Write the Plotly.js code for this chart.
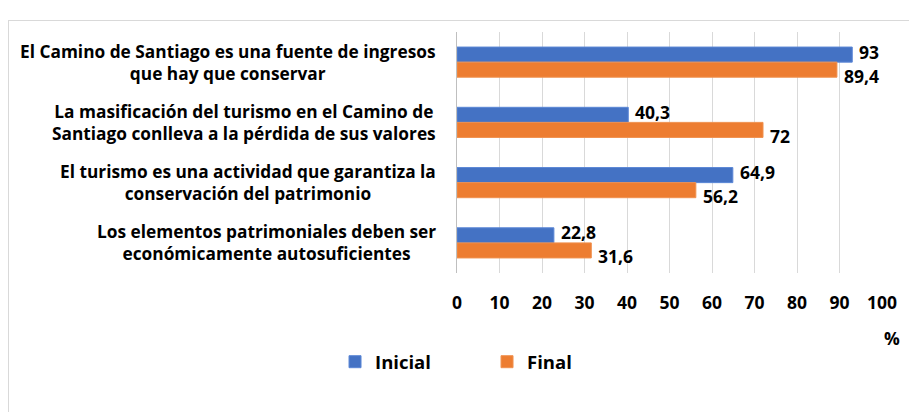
<!DOCTYPE html>
<html>
<head>
<meta charset="utf-8">
<script src="https://cdn.plot.ly/plotly-3.0.1.min.js"></script>
<style>
html,body{margin:0;padding:0;background:#fff;overflow:hidden;}
#frame{position:absolute;left:8px;top:20px;width:1000px;height:500px;border:1px solid #d9d9d9;box-sizing:border-box;}
#chart{position:absolute;left:0;top:0;width:909px;height:412px;}
</style>
</head>
<body>
<div id="frame"></div>
<div id="chart"></div>
<script>
const categories = [
  "El Camino de Santiago es una fuente de ingresos<br>que hay que conservar",
  "La masificación del turismo en el Camino de<br>Santiago conlleva a la pérdida de sus valores",
  "El turismo es una actividad que garantiza la<br>conservación del patrimonio",
  "Los elementos patrimoniales deben ser<br>económicamente autosuficientes"
];
const inicial = [93, 40.3, 64.9, 22.8];
const final = [89.4, 72, 56.2, 31.6];
const seriesNames = ["Inicial", "Final"];
const xTicks = [0,10,20,30,40,50,60,70,80,90,100];

const FONT = "'Open Sans', 'Noto Sans', sans-serif";
const colors = ["#4472C4", "#ED7D31"];
const lineColors = ["#5B87D6", "#F0914F"];
const idx = categories.map((c,i)=>i);

const traces = [inicial, final].map((vals, s) => ({
  type: "bar",
  orientation: "h",
  name: seriesNames[s],
  x: vals,
  y: idx,
  marker: {color: colors[s], line: {color: lineColors[s], width: 1}},
  hoverinfo: "x+name"
}));

const annotations = [];
const fmt = v => String(v).replace(".", ",");
[inicial, final].forEach((vals, s) => {
  vals.forEach((v, i) => {
    annotations.push({
      x: v, y: i + (s === 0 ? -0.125 : 0.125), xref: "x", yref: "y",
      text: fmt(v), showarrow: false, xanchor: "left", yanchor: "middle",
      xshift: 5, yshift: s === 0 ? 3 : -6,
      font: {family: FONT, size: 17.5, color: "#000", weight: 700}
    });
  });
});
categories.forEach((c, i) => {
  annotations.push({
    x: 0, xref: "paper", y: i, yref: "y", text: c, showarrow: false,
    xanchor: "right", yanchor: "middle", align: "center", xshift: -19,
    font: {family: FONT, size: 17.3, color: "#000", weight: 700}
  });
});
annotations.push({
  x: 1, xref: "paper", y: 0, yref: "paper", text: "%", showarrow: false,
  xanchor: "left", yanchor: "middle", xshift: 0, yshift: -65,
  font: {family: FONT, size: 17.5, color: "#000", weight: 700}
});

const layout = {
  width: 909, height: 412,
  margin: {l: 457, r: 27, t: 32, b: 139, pad: 0},
  paper_bgcolor: "rgba(0,0,0,0)",
  plot_bgcolor: "rgba(0,0,0,0)",
  barmode: "group",
  bargap: 0.5,
  bargroupgap: 0,
  showlegend: true,
  legend: {
    orientation: "h", x: -0.287, xanchor: "left", y: -0.37, yanchor: "middle",
    font: {family: FONT, size: 18.5, color: "#000", weight: 700},
    traceorder: "normal", entrywidth: 107, entrywidthmode: "pixels",
    itemclick: false
  },
  xaxis: {
    range: [0, 100], tickvals: xTicks, ticktext: xTicks.map(String),
    showgrid: true, gridcolor: "#d9d9d9", gridwidth: 1,
    zeroline: false, showline: false, ticks: "",
    ticklabelstandoff: 17,
    tickfont: {family: FONT, size: 17.5, color: "#000", weight: 700},
    fixedrange: true
  },
  yaxis: {
    autorange: "reversed", range: [3.5, -0.5],
    showticklabels: false, showgrid: false, zeroline: false,
    showline: true, linecolor: "#bfbfbf", linewidth: 1, ticks: "",
    fixedrange: true
  },
  annotations: annotations,
  font: {family: FONT, color: "#000"}
};

Plotly.newPlot("chart", traces, layout, {displayModeBar: false, staticPlot: true});
</script>
</body>
</html>
